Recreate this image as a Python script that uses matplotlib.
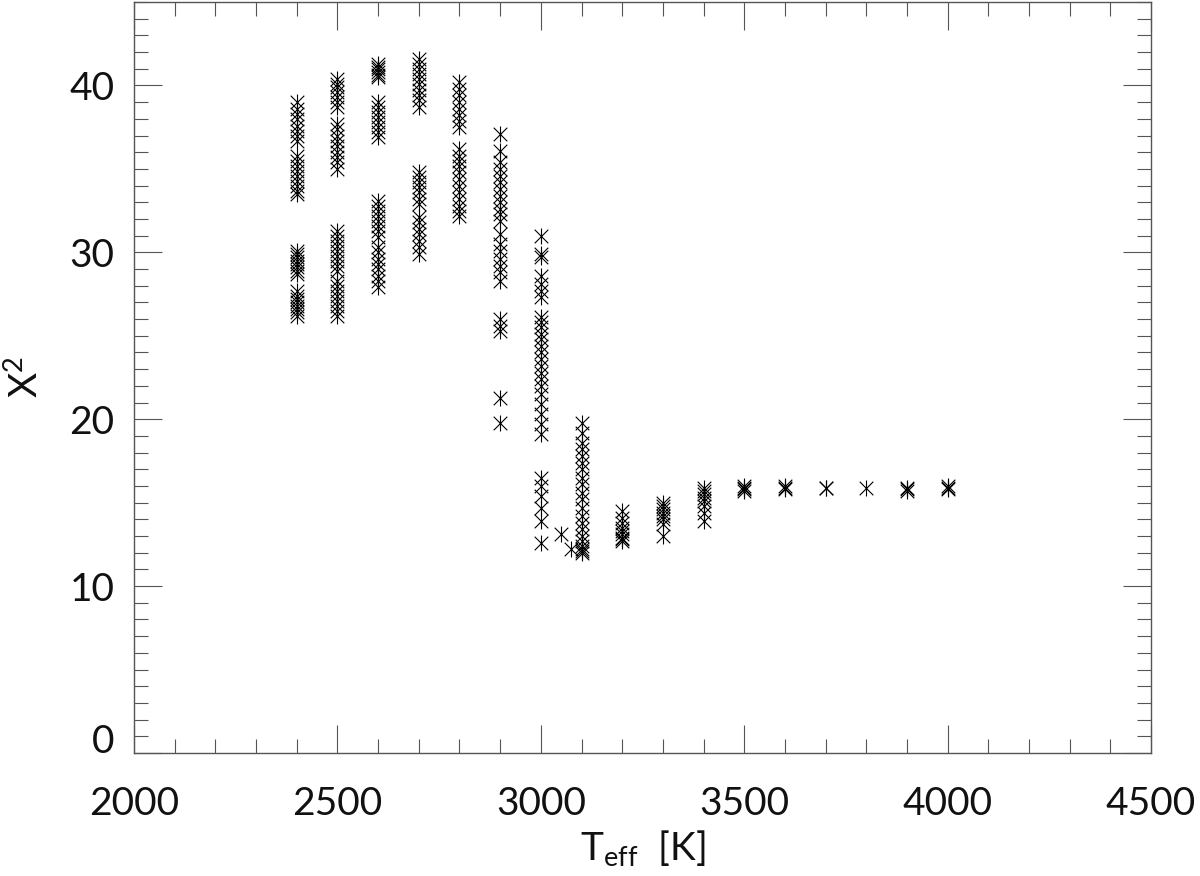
import numpy as np
import matplotlib
matplotlib.use("Agg")
import matplotlib.pyplot as plt
from matplotlib.path import Path
from matplotlib.ticker import MultipleLocator

plt.rcParams['font.family'] = ['Lato', 'DejaVu Sans']
plt.rcParams['mathtext.fontset'] = 'custom'
plt.rcParams['mathtext.rm'] = 'Lato'
plt.rcParams['mathtext.it'] = 'Lato'

# chi^2 values per effective temperature
teff_cols = [2400, 2500, 2600, 2700, 2800, 2900, 3000, 3050, 3075, 3100,
             3200, 3300, 3400, 3500, 3600, 3700, 3800, 3900, 4000]
chi2_2400 = [39.0, 38.6, 38.3, 38.0, 37.6, 37.3, 37.0, 36.7, 35.8, 35.5, 35.2,
             34.9, 34.6, 34.3, 34.0, 33.7, 33.5, 30.1, 29.9, 29.7, 29.5, 29.3,
             29.1, 28.9, 28.7, 27.7, 27.4, 27.2, 27.0, 26.8, 26.6, 26.4, 26.2]
chi2_2500 = [40.4, 40.1, 39.9, 39.6, 39.3, 39.0, 38.7, 37.7, 37.4, 37.0, 36.7,
             36.4, 36.0, 35.7, 35.4, 35.0, 31.3, 31.0, 30.7, 30.4, 30.1, 29.8,
             29.5, 29.2, 28.9, 28.3, 28.0, 27.7, 27.4, 27.1, 26.8, 26.5, 26.2]
chi2_2600 = [41.3, 41.1, 41.0, 40.8, 40.6, 40.5, 39.0, 38.7, 38.4, 38.1, 37.8,
             37.5, 37.2, 36.9, 33.1, 32.8, 32.5, 32.2, 31.9, 31.6, 31.3, 30.9,
             30.3, 30.0, 29.6, 29.3, 29.0, 28.6, 28.3, 27.9]
chi2_2700 = [41.6, 41.3, 41.0, 40.7, 40.4, 40.1, 39.7, 39.4, 39.1, 38.7, 34.8,
             34.5, 34.2, 33.9, 33.6, 33.2, 32.9, 32.1, 31.8, 31.4, 31.1, 30.7,
             30.3, 29.9]
chi2_2800 = [40.2, 39.8, 39.4, 39.0, 38.6, 38.2, 37.9, 37.5, 36.2, 35.8, 35.5,
             35.2, 34.8, 34.4, 34.0, 33.6, 33.2, 32.8, 32.5, 32.2]
chi2_2900 = [37.1, 36.1, 35.4, 35.0, 34.6, 34.2, 33.8, 33.4, 33.0, 32.6, 32.3,
             31.9, 31.1, 30.5, 30.1, 29.6, 29.2, 28.8, 28.3, 26.0, 25.6, 25.3,
             21.3, 19.8]
chi2_3000 = [31.0, 29.9, 29.7, 28.6, 28.1, 27.7, 27.3, 26.1, 25.8, 25.5, 25.1,
             24.8, 24.4, 24.0, 23.6, 23.2, 22.8, 22.4, 22.0, 21.5, 20.9, 20.3,
             19.7, 19.1, 16.5, 16.0, 15.4, 14.7, 13.9, 12.6]
chi2_3050 = [13.1]
chi2_3075 = [12.25]
chi2_3100 = [19.8, 19.2, 18.6, 18.2, 17.8, 17.4, 17.0, 16.5, 16.1, 15.6, 15.2,
             14.7, 14.2, 13.8, 13.4, 13.0, 12.7, 12.4, 12.2, 12.1, 12.0]
chi2_3200 = [14.5, 14.1, 13.8, 13.5, 13.3, 13.1, 12.9, 12.8, 12.7]
chi2_3300 = [15.0, 14.8, 14.6, 14.4, 14.2, 14.0, 13.7, 13.0]
chi2_3400 = [15.9, 15.7, 15.5, 15.3, 15.1, 14.8, 14.4, 13.9]
chi2_3500 = [16.0, 15.9, 15.8, 15.7]
chi2_3600 = [16.0, 15.9, 15.8]
chi2_3700 = [15.9, 15.9]
chi2_3800 = [15.9]
chi2_3900 = [15.9, 15.8, 15.7]
chi2_4000 = [16.0, 15.9, 15.8]

chi2_cols = [chi2_2400, chi2_2500, chi2_2600, chi2_2700, chi2_2800, chi2_2900,
             chi2_3000, chi2_3050, chi2_3075, chi2_3100, chi2_3200, chi2_3300,
             chi2_3400, chi2_3500, chi2_3600, chi2_3700, chi2_3800, chi2_3900,
             chi2_4000]

# IDL style asterisk: vertical bar plus an X
d = 0.85
star = Path([(0, -1), (0, 1), (-d, -d), (d, d), (-d, d), (d, -d)],
            [Path.MOVETO, Path.LINETO, Path.MOVETO, Path.LINETO,
             Path.MOVETO, Path.LINETO])

fig = plt.figure(figsize=(12, 8.76), dpi=100)
ax = fig.add_axes([0.1117, 0.1404, 0.8475, 0.8573])

for t, vals in zip(teff_cols, chi2_cols):
    ax.plot(np.full(len(vals), t), vals, linestyle='none', marker=star,
            markersize=11.5, markeredgewidth=0.8, color='black', markerfacecolor='none')

ax.set_xlim(2000, 4500)
ax.set_ylim(0, 45)
ax.xaxis.set_major_locator(MultipleLocator(500))
ax.xaxis.set_minor_locator(MultipleLocator(100))
ax.yaxis.set_major_locator(MultipleLocator(10))
ax.yaxis.set_minor_locator(MultipleLocator(1))

axcol = '#555555'
for s in ax.spines.values():
    s.set_color(axcol)
    s.set_linewidth(1.0)
ax.tick_params(which='both', direction='in', top=True, right=True, color=axcol,
               width=0.8, labelsize=28, labelcolor='#111111')
ax.tick_params(which='major', length=20)
ax.tick_params(which='minor', length=10)
ax.tick_params(axis='x', which='major', pad=24)
ax.tick_params(axis='y', which='major', pad=14)
fig.canvas.draw()
for lab in ax.get_yticklabels():
    if lab.get_text() == '0':
        lab.set_verticalalignment('baseline')

ax.set_xlabel(r'T$_{\rm eff}$  [K]', fontsize=28, labelpad=4, color='#111111')
ax.set_ylabel(r'X$^{2}$', fontsize=28, labelpad=18, color='#111111')

fig.savefig('out.png', dpi=100)
